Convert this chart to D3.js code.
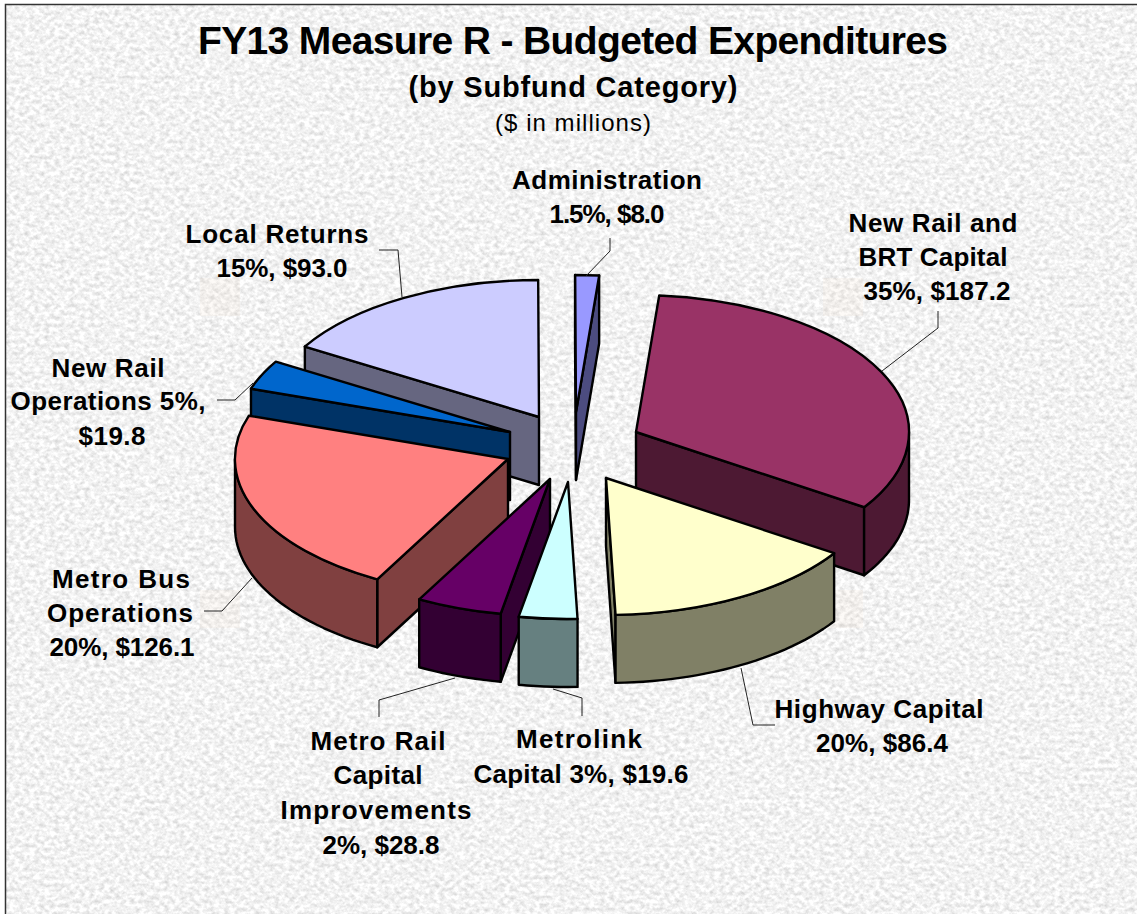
<!DOCTYPE html>
<html><head><meta charset="utf-8">
<script src="https://d3js.org/d3.v7.min.js"></script>
<style>html,body{margin:0;padding:0;background:#fff}svg{display:block}text{font-family:"Liberation Sans",Arial,sans-serif;fill:#000}</style>
</head><body><div id="chart"></div>
<script>
// ---- data ----
const categories = ["Administration","New Rail and BRT Capital","Highway Capital","Metrolink Capital","Metro Rail Capital Improvements","Metro Bus Operations","New Rail Operations","Local Returns"];
const values = [8.0,187.2,86.4,19.6,28.8,126.1,19.8,93.0];
const topColors = ["#9999FF","#993366","#FFFFCC","#CCFFFF","#660066","#FF8080","#0066CC","#CCCCFF"];
const wallColors = ["#4C4C80","#4D1933","#808066","#668080","#330033","#804040","#003366","#666680"];
const labelLines = [
  ["Administration","1.5%, $8.0"],
  ["New Rail and","BRT Capital","35%, $187.2"],
  ["Highway Capital","20%, $86.4"],
  ["Metrolink","Capital 3%, $19.6"],
  ["Metro Rail","Capital","Improvements","2%, $28.8"],
  ["Metro Bus","Operations","20%, $126.1"],
  ["New Rail","Operations 5%,","$19.8"],
  ["Local Returns","15%, $93.0"]
];
const titleLines = ["FY13 Measure R - Budgeted Expenditures","(by Subfund Category)","($ in millions)"];

// ---- layout ----
const W=1137,H=914,RX=273,RY=137,DEPTH=68;
const apexX=[576,636,606,568,550,508,510,539];
const apexY=[412,432,478,482,479,459,432,417];
const drawOrder=[0,1,7,6,5,4,2,3];
const titleLayout=[[573,54,750,39,"bold"],[573,97,329,29,"bold"],[573,131,156,24,"normal"]];
const labelX=[[607,607],[933,933,937],[879,882],[579,581],[378,378,376,381],[121,120,122],[108,108,112],[277,282]];
const labelW=[[190,115],[169,149,147],[209,132],[126,215],[135,89,191,117],[138,146,145],[113,195,67],[183,131]];
const labelY=[[189,223],[232,266,300],[718,752],[748,783],[750,784,819,854],[588,622,656],[377,410,445],[243,277]];
const leaders=[
 [[610,238],[610,251],[586,276]],
 [[938,311],[938,328],[882,371]],
 [[741,668],[753,725],[775,725]],
 [[553,689],[582,698],[582,716]],
 [[455,678],[379,700],[379,717]],
 [[252,578],[222,611],[204,611]],
 [[253,383],[235,400],[217,400]],
 [[402,297],[398,250],[379,250]]
];
const tileX=[200,823],tileY=[278,590];

const svg=d3.select("#chart").append("svg").attr("width",W).attr("height",H);
const defs=svg.append("defs");
const f=defs.append("filter").attr("id","paper").attr("x",0).attr("y",0).attr("width","100%").attr("height","100%").attr("color-interpolation-filters","sRGB");
f.append("feTurbulence").attr("type","fractalNoise").attr("baseFrequency","0.2 0.25").attr("numOctaves",3).attr("seed",7).attr("result","n");
f.append("feColorMatrix").attr("in","n").attr("type","matrix")
 .attr("values","0.3 0 0 0 0.8  0.3 0 0 0 0.8  0.3 0 0 0 0.8  0 0 0 0 1");

svg.append("rect").attr("width",W).attr("height",H).attr("fill","#fff");
svg.append("rect").attr("x",6).attr("y",5).attr("width",W-6).attr("height",H-5).attr("filter","url(#paper)");
tileX.forEach(x=>tileY.forEach(y=>svg.append("rect").attr("x",x).attr("y",y).attr("width",40).attr("height",38).attr("fill","#f3e2cc").attr("opacity",.16)));
svg.append("path").attr("d",`M5.5,${H}V4.5H${W}`).attr("fill","none").attr("stroke","#333").attr("stroke-width",1.5);

// ---- pie ----
const rad=d=>d*Math.PI/180;
const pie=d3.pie().sort(null).value(d=>d).startAngle(rad(-0.2)).endAngle(rad(359.8));
const slices=pie(values);
const xS=d3.scaleLinear().domain([-1,1]).range([-RX,RX]);
const yS=d3.scaleLinear().domain([-1,1]).range([-RY,RY]);
const arc=d3.arc().innerRadius(0).outerRadius(1);
const band=d3.area().x(t=>xS(Math.sin(t))).y0(t=>yS(-Math.cos(t))).y1(t=>yS(-Math.cos(t))+DEPTH);
const stroke=g=>g.attr("stroke","#000").attr("stroke-width",2.4).attr("stroke-linejoin","round");

const wall=(g,a,color)=>{
  const pts=[[0,0],[xS(Math.sin(a)),yS(-Math.cos(a))]];
  const poly=[pts[0],pts[1],[pts[1][0],pts[1][1]+DEPTH],[0,DEPTH]];
  g.append("path").attr("d",d3.line()(poly)+"Z").attr("fill",color).call(stroke);
};

const groups=svg.selectAll("g.slice").data(drawOrder).join("g").attr("class","slice")
  .attr("transform",i=>`translate(${apexX[i]},${apexY[i]})`);
groups.each(function(i){
  const g=d3.select(this),s=slices[i];
  if(Math.sin(s.startAngle)<0) wall(g,s.startAngle,wallColors[i]);
  if(Math.sin(s.endAngle)>0) wall(g,s.endAngle,wallColors[i]);
  const a0=Math.max(s.startAngle,rad(90)),a1=Math.min(s.endAngle,rad(270));
  if(a1>a0){
    const n=Math.max(4,Math.ceil((a1-a0)/rad(2)));
    const ts=d3.range(n+1).map(k=>a0+(a1-a0)*k/n);
    g.append("path").attr("d",band(ts)).attr("fill",wallColors[i]).call(stroke);
  }
  g.append("path").attr("d",arc(s)).attr("transform",`scale(${RX},${RY})`)
   .attr("vector-effect","non-scaling-stroke").attr("fill",topColors[i]).call(stroke);
});

// ---- leaders ----
svg.selectAll("path.leader").data(leaders).join("path").attr("class","leader")
  .attr("d",d=>d3.line()(d)).attr("fill","none").attr("stroke","#222").attr("stroke-width",1);

// ---- text ----
const put=(x,y,w,size,weight,str)=>svg.append("text").attr("x",x).attr("y",y)
  .attr("text-anchor","middle").attr("font-size",size).attr("font-weight",weight)
  .attr("textLength",w).attr("lengthAdjust","spacing").text(str);
titleLines.forEach((t,i)=>{const l=titleLayout[i];put(l[0],l[1],l[2],l[3],l[4],t);});
labelLines.forEach((lines,i)=>lines.forEach((t,j)=>put(labelX[i][j],labelY[i][j],labelW[i][j],26,"bold",t)));
</script></body></html>
